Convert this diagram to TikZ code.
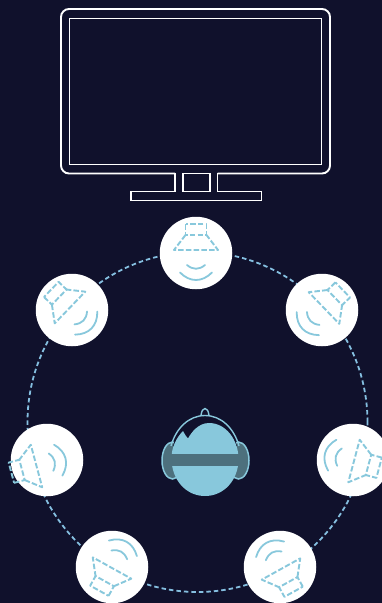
\documentclass[tikz,border=0pt]{standalone}
\definecolor{bg}{HTML}{10112C}
\definecolor{sky}{HTML}{88C8DC}
\definecolor{ringc}{HTML}{85BFE0}
\definecolor{band}{HTML}{4D707D}
\tikzset{
  x=1pt,y=-1pt,
  tvline/.style={draw=white,line width=1.9pt,line join=miter},
  spot/.style={circle,fill=white,draw=none,minimum size=72.5pt,inner sep=0pt},
  ring/.style={draw=ringc,line width=1.8pt,dash pattern=on 4.5pt off 3pt},
  cone/.style={draw=sky,line width=1.9pt,dash pattern=on 5.5pt off 2.2pt,line join=round},
  wave/.style={draw=sky,line width=1.8pt,line cap=round},
}
\newcommand{\speaker}[3]{%
  \begin{scope}[shift={(#1,#2)},rotate=#3]
    \draw[cone] (-10.5,-26) rectangle (10.5,-15);
    \draw[cone] (-10.5,-15) -- (-22,0) -- (22,0) -- (10.5,-15);
    \draw[wave] (-9,15) .. controls (-3,20) and (3,20) .. (9,15);
    \draw[wave] (-16,22.5) .. controls (-6,32.5) and (6,32.5) .. (16,22.5);
  \end{scope}}
\begin{document}
\begin{tikzpicture}
\clip (0,0) rectangle (382,603);
\fill[bg] (0,0) rectangle (382,603);
% television
\draw[tvline,rounded corners=8pt] (175,173.5) -- (61,173.5) -- (61,9) -- (330,9) -- (330,173.5) -- (217.5,173.5);
\draw[tvline] (69.5,18.5) rectangle (321.5,164.5);
\draw[tvline] (175,173) -- (175,191.5) -- (131,191.5) -- (131,200.5) -- (261.5,200.5) -- (261.5,191.5) -- (217.5,191.5) -- (217.5,173);
\draw[tvline] (183,173.5) rectangle (210,191.5);
% ring and seats
\draw[ring] (197.5,422) circle (170pt);
\node[spot] (s1) at (196,253) {};
\node[spot] (s2) at (322,310) {};
\node[spot] (s3) at (353,460) {};
\node[spot] (s4) at (280,567) {};
\node[spot] (s5) at (112,567) {};
\node[spot] (s6) at (47,460) {};
\node[spot] (s7) at (72,310) {};
\speaker{196}{250}{0}
\speaker{324}{308}{-46}
\speaker{354}{461}{-105}
\speaker{281}{569}{-151}
\speaker{112}{568}{151}
\speaker{36.5}{466}{105}
\speaker{70}{307.5}{46}
% listener
\draw[sky,line width=1.5pt,fill=band] (172.5,460.5) ellipse (10.5pt and 18.5pt);
\draw[sky,line width=1.5pt,fill=band] (238.5,460.5) ellipse (10.5pt and 18.5pt);
\draw[sky,line width=1.4pt] (201,415.5) .. controls (201.5,411) and (203,408.5) .. (205,408.5) .. controls (207,408.5) and (208.5,411) .. (209,415.5);
\fill[bg] (173,446) .. controls (178,428) and (189,415.5) .. (205,415.5) .. controls (221,415.5) and (232,428) .. (237,446) -- cycle;
\draw[sky,line width=1.4pt] (171,446) .. controls (176,428) and (189,415.5) .. (205,415.5) .. controls (221,415.5) and (234,428) .. (239,446);
\fill[sky] (171.5,458) .. controls (171.5,448) and (176,438) .. (183,431) .. controls (185,434) and (186,437) .. (188,438.5) .. controls (191,433) and (198,423) .. (209,423) .. controls (226,423) and (238.5,440) .. (238.5,459)
  .. controls (238.5,480) and (224,496) .. (205,496) .. controls (186,496) and (171.5,480) .. (171.5,458) -- cycle;
\fill[band] (171,454) rectangle (241,466);
\end{tikzpicture}
\end{document}
